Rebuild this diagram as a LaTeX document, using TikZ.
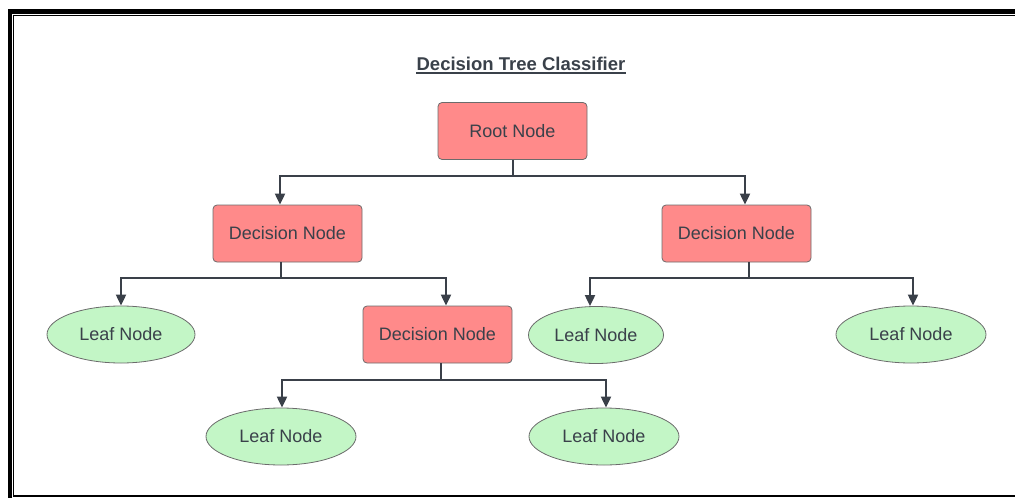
\documentclass[tikz,border=0pt]{standalone}
\usepackage{fontspec}
\setmainfont{Liberation Sans}
\usepackage{xcolor}
\usepackage{tikz}
\usetikzlibrary{shapes.geometric, arrows.meta, positioning}
\definecolor{nodered}{HTML}{FF8A8A}
\definecolor{leafgreen}{HTML}{C3F6C6}
\definecolor{edgegray}{HTML}{6B6B6B}
\definecolor{linedark}{HTML}{3A4049}
\definecolor{textdark}{HTML}{3A414A}

\begin{document}
\begin{tikzpicture}[
    x=1pt, y=-1pt,
    decision/.style={rectangle, rounded corners=4pt, draw=edgegray, line width=0.8pt, fill=nodered,
                minimum width=149pt, minimum height=57pt, inner sep=0pt,
                font=\fontsize{18}{21}\selectfont, text=textdark},
    leaf/.style={ellipse, draw=edgegray, line width=0.8pt, fill=leafgreen,
                minimum width=150pt, minimum height=57pt, inner sep=0pt,
                font=\fontsize{18}{21}\selectfont, text=textdark},
    link/.style={line width=2pt, color=linedark},
    arrow/.style={link, -{Triangle[width=10pt, length=11pt]}}
]
    \useasboundingbox (0,0) rectangle (1015,498);

    % frame
    \fill[black] (8,9) rectangle (1015,14);
    \fill[black] (8,9) rectangle (12,498);
    \draw[line width=1.3pt] (1015,15.5) -- (13.5,15.5) -- (13.5,496) -- (1015,496);

    \node[inner sep=0pt, anchor=base, font=\fontsize{18.5}{22}\selectfont\bfseries, text=textdark]
        (title) at (521,70.5) {Decision Tree Classifier};
    \draw[line width=1.5pt, textdark] ([yshift=-2.5pt]title.base west) -- ([yshift=-2.5pt]title.base east);

    \node[decision] (root) at (512.5,131) {Root Node};
    \node[decision] (decl) at (287.5,233.5) {Decision Node};
    \node[decision] (decr) at (736.5,233.5) {Decision Node};
    \node[decision] (decm) at (437.5,334.5) {Decision Node};

    \node[leaf, minimum width=148pt] (leafa) at (121,334.5) {Leaf Node};
    \node[leaf, minimum width=135pt] (leafb) at (596,335)   {Leaf Node};
    \node[leaf] (leafc) at (911,334.5) {Leaf Node};
    \node[leaf] (leafd) at (281,436.5) {Leaf Node};
    \node[leaf] (leafe) at (604,436.5) {Leaf Node};

    \draw[link] (root.south) -- ++(0,16) coordinate (jroot);
    \draw[arrow] (jroot) -| ([xshift=-7.5pt]decl.north);
    \draw[arrow] (jroot) -| ([xshift=8.5pt]decr.north);

    \draw[link] ([xshift=-7pt]decl.south) -- ++(0,16) coordinate (jleft);
    \draw[arrow] (jleft) -| (leafa.north);
    \draw[arrow] (jleft) -| ([xshift=8.5pt]decm.north);

    \draw[link] ([xshift=12.5pt]decr.south) -- ++(0,16) coordinate (jright);
    \draw[arrow] (jright) -| ([xshift=-6pt]leafb.north);
    \draw[arrow] (jright) -| ([xshift=2pt]leafc.north);

    \draw[link] ([xshift=3.5pt]decm.south) -- ++(0,17) coordinate (jmid);
    \draw[arrow] (jmid) -| ([xshift=1pt]leafd.north);
    \draw[arrow] (jmid) -| ([xshift=2pt]leafe.north);
\end{tikzpicture}
\end{document}
